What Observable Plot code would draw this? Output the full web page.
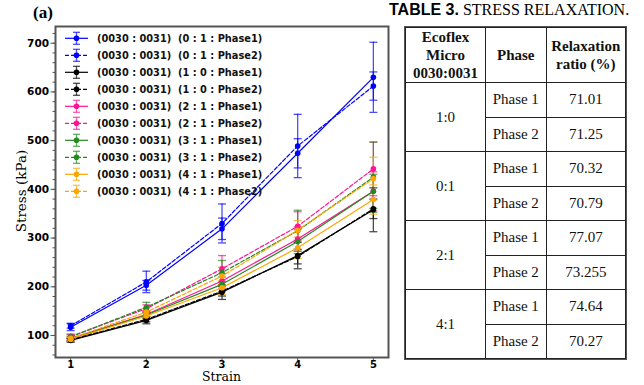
<!DOCTYPE html>
<html>
<head>
<meta charset="utf-8">
<script src="https://cdn.jsdelivr.net/npm/d3@7"></script>
<script src="https://cdn.jsdelivr.net/npm/@observablehq/plot@0.6"></script>
<style>
  html, body { margin: 0; padding: 0; background: #fff; }
  #wrap { position: relative; width: 644px; height: 385px; overflow: hidden; }
  #chart { position: absolute; left: 0; top: 0; }
  #legend { position: absolute; left: 0; top: 0; pointer-events: none; }
  .lbl { position: absolute; font-family: "DejaVu Serif", serif; font-size: 13.5px; line-height: 16px; color: #000; white-space: nowrap; }
  #xlab { font-size: 12.5px; line-height: 14.6px; }
  #panel { position: absolute; left: 33px; top: 3px; font-family: "Liberation Serif", serif; font-weight: bold; font-size: 17px; }
  #ttl { position: absolute; left: 389px; top: 0px; font-size: 16px; white-space: nowrap; line-height: 19px; }
  #ttl b { font-family: "Liberation Sans", Arial, sans-serif; font-weight: bold; }
  #ttl span { font-family: "Liberation Serif", "Times New Roman", serif; }
  #tbl { position: absolute; left: 405px; top: 27px; }
  table { border-collapse: collapse; font-family: "Liberation Serif", "Times New Roman", serif; font-size: 15px; color: #111; outline: 1.5px solid #555; }
  td, th { border: 1px solid #222; text-align: center; padding: 0; }
  th { font-weight: bold; line-height: 18px; height: 54px; }
  td { height: 33.5px; }
</style>
</head>
<body>
<div id="wrap">
  <div id="chart"></div>
  <svg id="legend" width="395" height="385"></svg>
  <div id="panel">(a)</div>
  <div class="lbl" id="xlab">Strain</div>
  <div class="lbl" id="ylab">Stress (kPa)</div>
  <div id="ttl"><b>TABLE 3.</b> <span>STRESS RELAXATION.</span></div>
  <div id="tbl"></div>
</div>
<script>
// ---------- chart data ----------
const strains = [1, 2, 3, 4, 5];
const seriesLabels = [
  "(0030 : 0031)  (0 : 1 : Phase1)",
  "(0030 : 0031)  (0 : 1 : Phase2)",
  "(0030 : 0031)  (1 : 0 : Phase1)",
  "(0030 : 0031)  (1 : 0 : Phase2)",
  "(0030 : 0031)  (2 : 1 : Phase1)",
  "(0030 : 0031)  (2 : 1 : Phase2)",
  "(0030 : 0031)  (3 : 1 : Phase1)",
  "(0030 : 0031)  (3 : 1 : Phase2)",
  "(0030 : 0031)  (4 : 1 : Phase1)",
  "(0030 : 0031)  (4 : 1 : Phase2)"
];
const seriesColors = ["#0000ff", "#0000ff", "#000000", "#000000", "#ff1493", "#ff1493", "#228b22", "#228b22", "#ffa500", "#ffa500"];
const seriesDashed = [false, true, false, true, false, true, false, true, false, true];
const stressValues = [
  [117, 203, 319, 474, 630],
  [120, 210, 330, 489, 612],
  [90, 131, 189, 264, 358],
  [91, 133, 191, 262, 360],
  [94, 143, 212, 298, 396],
  [98, 155, 237, 324, 442],
  [93, 142, 205, 293, 396],
  [97, 158, 229, 315, 425],
  [92, 140, 198, 280, 379],
  [94, 148, 222, 316, 422]
];
const stressErrors = [
  [7, 10, 22, 30, 72],
  [5, 22, 40, 65, 29],
  [4, 7, 15, 27, 45],
  [3, 5, 10, 15, 20],
  [4, 8, 15, 25, 40],
  [5, 8, 27, 30, 55],
  [4, 7, 15, 25, 35],
  [5, 10, 25, 42, 72],
  [4, 7, 14, 22, 30],
  [5, 8, 18, 20, 44]
];
const yMajorTicks = [100, 200, 300, 400, 500, 600, 700];
const xTicks = [1, 2, 3, 4, 5];

// ---------- table data ----------
const tableHeaders = [["Ecoflex", "Micro", "0030:0031"], ["Phase"], ["Relaxation", "ratio (%)"]];
const tableRatios = ["1:0", "0:1", "2:1", "4:1"];
const tablePhases = ["Phase 1", "Phase 2"];
const tableValues = [["71.01", "71.25"], ["70.32", "70.79"], ["77.07", "73.255"], ["74.64", "70.27"]];

// ---------- build rows ----------
const rows = [];
seriesLabels.forEach((s, i) => {
  strains.forEach((x, j) => {
    rows.push({series: s, idx: i, strain: x, v: stressValues[i][j], e: stressErrors[i][j], color: seriesColors[i], dashed: seriesDashed[i]});
  });
});

const capSymbol = {
  draw(ctx, size) {
    const w = Math.sqrt(size / Math.PI);
    ctx.moveTo(-w, 0);
    ctx.lineTo(w, 0);
  }
};

const W = 395, H = 385;
const chart = Plot.plot({
  width: W, height: H,
  marginLeft: 55, marginRight: 7, marginTop: 26, marginBottom: 28,
  x: {domain: [0.8, 5.2]},
  y: {domain: [54.8, 734.3]},
  color: {type: "identity"},
  style: {fontFamily: "DejaVu Sans, sans-serif", fontSize: "10.5px", fontWeight: "bold", color: "#000", background: "transparent"},
  marks: [
    Plot.ruleX(rows, {x: "strain", y1: d => d.v - d.e, y2: d => d.v + d.e, stroke: "color", strokeOpacity: 0.7, strokeWidth: 1.3}),
    Plot.dot(rows, {x: "strain", y: d => d.v + d.e, symbol: capSymbol, r: 4, stroke: "color", strokeOpacity: 0.7, strokeWidth: 1.3}),
    Plot.dot(rows, {x: "strain", y: d => d.v - d.e, symbol: capSymbol, r: 4, stroke: "color", strokeOpacity: 0.7, strokeWidth: 1.3}),
    Plot.line(rows.filter(d => !d.dashed), {x: "strain", y: "v", z: "series", stroke: "color", strokeWidth: 1.2}),
    Plot.line(rows.filter(d => d.dashed), {x: "strain", y: "v", z: "series", stroke: "color", strokeWidth: 1.2, strokeDasharray: "4,2"}),
    Plot.dot(rows, {x: "strain", y: "v", fill: "color", r: 2.8, symbol: "circle"}),
    Plot.axisY(d3.range(60, 734, 20), {tickSize: 2.5, tickFormat: () => "", stroke: "#555", label: null}),
    Plot.axisY(yMajorTicks, {tickSize: 4.5, tickPadding: 2, stroke: "#555", label: null}),
    Plot.axisX(xTicks, {tickSize: 3.5, tickPadding: 0, fontSize: 10, stroke: "#555", label: null}),
    Plot.frame({stroke: "#555", strokeWidth: 2})
  ]
});
document.getElementById("chart").appendChild(chart);

// ---------- legend ----------
const leg = d3.select("#legend");
seriesLabels.forEach((s, i) => {
  const cy = 38.3 + i * 17;
  const g = leg.append("g");
  g.append("line").attr("x1", 65).attr("x2", 88).attr("y1", cy).attr("y2", cy)
    .attr("stroke", seriesColors[i]).attr("stroke-width", 1.2)
    .attr("stroke-dasharray", seriesDashed[i] ? "4,2" : null);
  g.append("line").attr("x1", 76.5).attr("x2", 76.5).attr("y1", cy - 6).attr("y2", cy + 6)
    .attr("stroke", seriesColors[i]).attr("stroke-opacity", 0.7).attr("stroke-width", 1.3);
  [-6, 6].forEach(o => g.append("line").attr("x1", 73).attr("x2", 80).attr("y1", cy + o).attr("y2", cy + o)
    .attr("stroke", seriesColors[i]).attr("stroke-opacity", 0.7).attr("stroke-width", 1.3));
  g.append("circle").attr("cx", 76.5).attr("cy", cy).attr("r", 2.8).attr("fill", seriesColors[i]);
  g.append("text").attr("x", 97).attr("y", cy).attr("dy", "0.35em")
    .attr("font-family", "DejaVu Sans, sans-serif").attr("font-weight", "bold").attr("font-size", "9.8px")
    .style("white-space", "pre").attr("fill", "#111").text(s);
});

// ---------- axis labels ----------
const xl = document.getElementById("xlab");
xl.style.left = "221.5px"; xl.style.top = "370.2px"; xl.style.transform = "translateX(-50%)";
const yl = document.getElementById("ylab");
yl.style.left = "21px"; yl.style.top = "191px"; yl.style.transform = "translate(-50%,-50%) rotate(-90deg)";

// ---------- table ----------
const tbl = d3.select("#tbl").append("table");
const cg = tbl.append("colgroup");
[80, 60.5, 79.5].forEach(w => cg.append("col").style("width", w + "px"));
const hr = tbl.append("tr");
tableHeaders.forEach(h => hr.append("th").html(h.join("<br>")));
tableRatios.forEach((r, i) => {
  tablePhases.forEach((p, j) => {
    const tr = tbl.append("tr");
    if (j === 0) tr.append("td").attr("rowspan", 2).text(r);
    tr.append("td").text(p);
    tr.append("td").text(tableValues[i][j]);
  });
});
</script>
</body>
</html>
